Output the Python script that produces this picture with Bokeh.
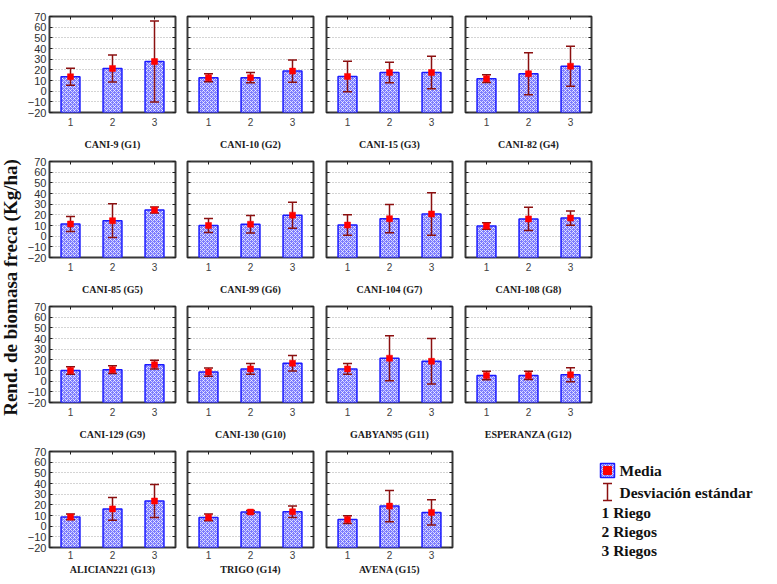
import math
from bokeh.plotting import figure
from bokeh.layouts import row, column
from bokeh.models import Range1d, FixedTicker, LinearAxis, ColumnDataSource
from bokeh.embed import file_html
from bokeh.resources import INLINE
from bokeh.core.properties import value

# ---------------- data ----------------
genotipos = ["CANI-9 (G1)", "CANI-10 (G2)", "CANI-15 (G3)", "CANI-82 (G4)",
             "CANI-85 (G5)", "CANI-99 (G6)", "CANI-104 (G7)", "CANI-108 (G8)",
             "CANI-129 (G9)", "CANI-130 (G10)", "GABYAN95 (G11)", "ESPERANZA (G12)",
             "ALICIAN221 (G13)", "TRIGO (G14)", "AVENA (G15)"]
riegos = [1, 2, 3]
media = [[13.5, 21.3, 27.8], [12.6, 12.6, 18.8], [13.8, 17.5, 17.5], [11.7, 16.3, 23.4],
         [11.4, 14.5, 24.5], [10.0, 11.2, 19.7], [10.4, 16.4, 20.8], [9.5, 16.2, 17.0],
         [10.0, 10.8, 15.5], [8.5, 11.5, 16.8], [11.5, 21.5, 18.6], [5.4, 5.4, 6.0],
         [8.7, 16.2, 23.6], [8.2, 13.2, 13.5], [6.2, 18.8, 12.9]]
desv = [[8.0, 12.7, 38.0], [3.7, 4.8, 10.5], [14.3, 9.5, 15.3], [3.6, 19.6, 18.8],
        [7.0, 15.8, 2.8], [6.6, 8.2, 12.2], [9.6, 13.3, 20.0], [3.0, 11.0, 6.7],
        [3.6, 3.6, 4.2], [3.9, 5.0, 7.2], [5.0, 21.0, 21.3], [4.0, 3.8, 6.5],
        [2.7, 10.7, 15.5], [3.2, 1.4, 5.3], [3.6, 14.7, 11.8]]
y_ticks = [-20, -10, 0, 10, 20, 30, 40, 50, 60, 70]
y_label = "Rend. de biomasa freca (Kg/ha)"
legend_labels = ["Media", "Desviación estándar"]
riego_labels = ["1 Riego", "2 Riegos", "3 Riegos"]

# ---------------- styles ----------------
BAR_FILL = "#7c7cff"
BAR_LINE = "#1a1aff"
ERR = "#8b1010"
MEAN = "#ff0000"
SERIF = "Liberation Serif"
SANS = "Liberation Sans"
FRAME_W, FRAME_H = 126, 96
TOP_FIRST = 16
TOP = 8
BOT = 41
BOT_LAST = 29
ROW4_H = TOP + FRAME_H + BOT_LAST
TOTAL_H = TOP_FIRST + FRAME_H + BOT + 2 * (TOP + FRAME_H + BOT) + ROW4_H


def style_bar(r):
    g = r.glyph
    g.hatch_pattern = "diagonal_cross"
    g.hatch_color = "white"
    g.hatch_scale = 4
    g.hatch_weight = 1
    g.hatch_alpha = 0.7


def hidden_axis(ticks):
    return LinearAxis(ticker=FixedTicker(ticks=ticks), axis_line_color=None,
                      major_tick_in=3, major_tick_out=0, major_tick_line_color="#202020",
                      minor_tick_line_color=None, major_label_text_font_size="1px",
                      major_label_text_color=None, major_label_standoff=0)


def panel(i, col, rowi):
    left = 24 if col == 0 else 6
    right = 6 if col == 0 else 7
    top = TOP_FIRST if rowi == 0 else TOP
    bottom = BOT if rowi < 3 else BOT_LAST
    p = figure(frame_width=FRAME_W, frame_height=FRAME_H,
               x_range=Range1d(0.5, 3.5), y_range=Range1d(y_ticks[0], y_ticks[-1]),
               output_backend="svg", toolbar_location=None, title=None,
               min_border_left=left, min_border_right=right,
               min_border_top=top, min_border_bottom=bottom)
    p.outline_line_color = "#383838"
    p.outline_line_width = 2
    p.xgrid.visible = False
    p.ygrid.ticker = FixedTicker(ticks=y_ticks[1:-1])
    p.ygrid.grid_line_color = "#a8a8a8"
    p.ygrid.grid_line_dash = "1 2"

    xa = p.xaxis[0]
    xa.ticker = FixedTicker(ticks=riegos)
    xa.axis_line_color = None
    xa.major_tick_line_color = None
    xa.major_tick_in = 0
    xa.major_tick_out = 0
    xa.minor_tick_line_color = None
    xa.major_label_text_font = SANS
    xa.major_label_text_font_size = "10px"
    xa.major_label_text_color = "#404040"
    xa.major_label_standoff = 5 if rowi < 3 else 3
    xa.axis_label = genotipos[i]
    xa.axis_label_text_font = SERIF
    xa.axis_label_text_font_style = "bold"
    xa.axis_label_text_font_size = "10px"
    xa.axis_label_text_color = "#202020"
    xa.axis_label_standoff = 10 if rowi < 3 else 2

    ya = p.yaxis[0]
    ya.ticker = FixedTicker(ticks=y_ticks)
    ya.axis_line_color = None
    ya.major_tick_in = 3
    ya.major_tick_out = 0
    ya.major_tick_line_color = "#202020"
    ya.minor_tick_line_color = None
    if col == 0:
        ya.major_label_standoff = 3
        ya.major_label_text_font = SANS
        ya.major_label_text_font_size = "11px"
        ya.major_label_text_color = "#303030"
    else:
        ya.major_label_standoff = 0
        ya.major_label_text_font_size = "1px"
        ya.major_label_text_color = None

    p.add_layout(hidden_axis(y_ticks), "right")
    p.add_layout(hidden_axis(riegos), "above")

    src = ColumnDataSource(dict(
        x=riegos, top=media[i],
        upper=[m + s for m, s in zip(media[i], desv[i])],
        lower=[m - s for m, s in zip(media[i], desv[i])]))
    r = p.vbar(x="x", top="top", bottom=y_ticks[0], width=0.45, source=src,
               fill_color=BAR_FILL, line_color=BAR_LINE, line_width=1.5)
    style_bar(r)
    p.segment(x0="x", y0="lower", x1="x", y1="upper", source=src,
              line_color=ERR, line_width=1.5)
    p.scatter(x="x", y="upper", marker="dash", size=9, source=src,
              line_color=ERR, line_width=1.5)
    p.scatter(x="x", y="lower", marker="dash", size=9, source=src,
              line_color=ERR, line_width=1.5)
    p.scatter(x="x", y="top", marker="square", size=6, source=src,
              fill_color=MEAN, line_color=MEAN, line_width=0.5)
    return p


# ---------------- y label (frame = page pixels, y measured up from bottom) ----------------
YL_FRAME = TOTAL_H - TOP_FIRST - BOT_LAST
ylab = figure(frame_width=24, frame_height=YL_FRAME, x_range=Range1d(0, 24),
              y_range=Range1d(0, YL_FRAME), output_backend="svg", toolbar_location=None,
              title=None, min_border_left=0, min_border_right=0,
              min_border_top=TOP_FIRST, min_border_bottom=BOT_LAST,
              x_axis_location=None, y_axis_location=None)
ylab.outline_line_color = None
ylab.grid.visible = False
ylab.text(x=[10], y=[TOTAL_H - BOT_LAST - 287], text=[y_label], angle=math.pi / 2,
          text_align="center", text_baseline="middle", text_font=value(SERIF),
          text_font_style="bold", text_font_size="19px", text_color="#111111")

# ---------------- legend (own canvas, page x 466..769, y 443..576) ----------------
LW = 303
leg = figure(width=LW, height=ROW4_H, x_range=Range1d(0, LW), y_range=Range1d(0, ROW4_H),
             output_backend="svg", toolbar_location=None, title=None, min_border=0,
             x_axis_location=None, y_axis_location=None)
leg.outline_line_color = None
leg.grid.visible = False
rr = leg.rect(x=[148], y=[106], width=14, height=14, fill_color=BAR_FILL,
              line_color=BAR_LINE, line_width=1.5)
style_bar(rr)
leg.scatter(x=[148], y=[106], marker="square", size=8, fill_color=MEAN, line_color=MEAN)
leg.segment(x0=[148], y0=[76], x1=[148], y1=[93], line_color=ERR, line_width=1.5)
leg.scatter(x=[148, 148], y=[76, 93], marker="dash", size=9, line_color=ERR, line_width=1.5)
leg.text(x=[160, 160], y=[106, 84], text=legend_labels, text_baseline="middle",
         text_font=value(SERIF), text_font_style="bold", text_font_size="15.5px",
         text_color="#111111")
leg.text(x=[142, 142, 142], y=[64, 45, 26], text=riego_labels, text_baseline="middle",
         text_font=value(SERIF), text_font_style="bold", text_font_size="15.5px",
         text_color="#111111")

rows = []
for r_i in range(4):
    figs = []
    for c in range(4):
        idx = r_i * 4 + c
        figs.append(panel(idx, c, r_i) if idx < 15 else column(leg))
    rows.append(row(*figs))

layout = row(ylab, column(*rows))
open("out.html", "w").write(file_html(layout, INLINE))
